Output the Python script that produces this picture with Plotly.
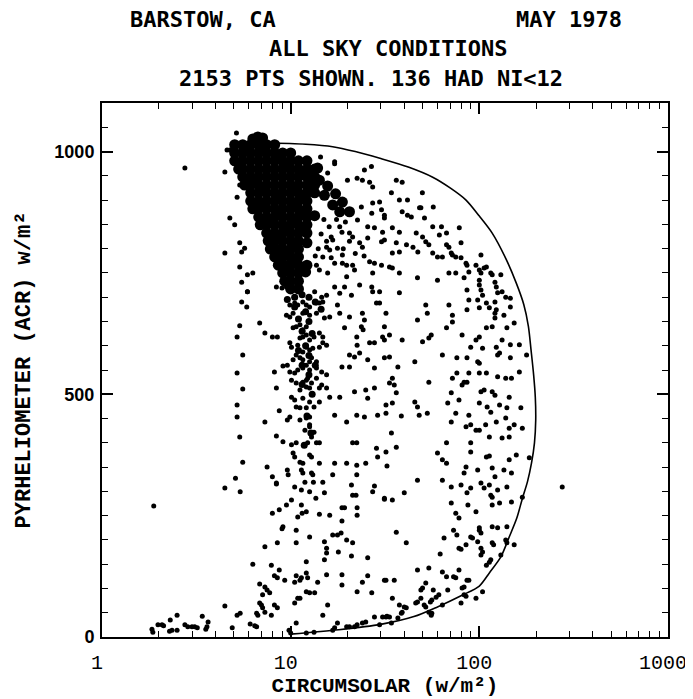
import plotly.graph_objects as go

# ---------------- data ----------------
x_tick_values = [1, 10, 100, 1000]
x_tick_labels = ["1", "10", "100", "1000"]
x_minor_ticks = [2, 3, 4, 5, 6, 7, 8, 9, 20, 30, 40, 50, 60, 70, 80, 90,
                 200, 300, 400, 500, 600, 700, 800, 900]
y_tick_values = [0, 500, 1000]
y_tick_labels = ["0", "500", "1000"]

# envelope curve (circumsolar, pyrheliometer)
envelope_x = [10.0, 18, 30, 45, 60, 81, 100, 113, 130, 144, 158, 169, 180, 189, 196, 199,
              198, 194, 188, 182, 172, 157, 138, 117, 100, 85, 70, 56.6, 42, 29.7, 22,
              16.7, 12, 7.1]
envelope_y = [6, 15, 26, 42, 62, 86, 105, 132, 165, 206, 245, 285, 320, 358, 400, 447,
              494, 540, 591, 640, 685, 729, 780, 832, 867, 900, 925, 947, 968, 986, 1000,
              1010, 1015, 1018]

# dense core of the cloud (points overlap into a solid mass)
core_points = [
    (6.7, 1030), (6.3, 1026), (7.1, 1028),
    (5.05, 1014), (5.57, 1014), (6.14, 1014), (6.77, 1014), (7.46, 1014), (8.23, 1014),
    (5.05, 997), (5.57, 997), (6.14, 997), (6.77, 997), (7.46, 997), (8.23, 997), (9.07, 997), (10.0, 997),
    (5.05, 981), (5.57, 981), (6.14, 981), (6.77, 981), (7.46, 981), (8.23, 981), (9.07, 981), (10.0, 981), (11.0, 981), (12.2, 981),
    (5.3, 964), (5.57, 964), (6.14, 964), (6.77, 964), (7.46, 964), (8.23, 964), (9.07, 964), (10.0, 964), (11.0, 964), (12.2, 964), (13.4, 964),
    (5.57, 948), (6.14, 948), (6.77, 948), (7.46, 948), (8.23, 948), (9.07, 948), (10.0, 948), (11.0, 948), (12.2, 948), (13.4, 948),
    (5.7, 931), (6.14, 931), (6.77, 931), (7.46, 931), (8.23, 931), (9.07, 931), (10.0, 931), (11.0, 931), (12.2, 931), (13.4, 931),
    (6.14, 915), (6.77, 915), (7.46, 915), (8.23, 915), (9.07, 915), (10.0, 915), (11.0, 915), (12.2, 915), (13.4, 915),
    (6.14, 898), (6.77, 898), (7.46, 898), (8.23, 898), (9.07, 898), (10.0, 898), (11.0, 898), (12.2, 898),
    (6.3, 882), (6.77, 882), (7.46, 882), (8.23, 882), (9.07, 882), (10.0, 882), (11.0, 882), (12.2, 882),
    (6.77, 865), (7.46, 865), (8.23, 865), (9.07, 865), (10.0, 865), (11.0, 865), (12.2, 865), (13.4, 868),
    (6.9, 849), (7.46, 849), (8.23, 849), (9.07, 849), (10.0, 849), (11.0, 849), (12.2, 849),
    (7.46, 832), (8.23, 832), (9.07, 832), (10.0, 832), (11.0, 832), (12.2, 832),
    (7.6, 816), (8.23, 816), (9.07, 816), (10.0, 816), (11.0, 816), (12.2, 812),
    (7.8, 799), (8.4, 799), (9.07, 799), (10.0, 799), (11.0, 799),
    (8.23, 783), (9.07, 783), (10.0, 783), (11.0, 783),
    (8.6, 766), (9.3, 766), (10.0, 766), (11.0, 766), (12.2, 766),
    (9.07, 750), (10.0, 750), (11.0, 750), (12.0, 752),
    (9.3, 733), (10.0, 733), (11.0, 733),
    (10.0, 717), (11.0, 717),
    (14.2, 941), (15.7, 929), (17.3, 913), (18.8, 896), (20.5, 876),
    (15.1, 910), (16.7, 890), (18.2, 876), (13.9, 966), (12.6, 958),
    (5.8, 1006), (7.1, 1006), (8.7, 990), (9.6, 973), (11.6, 956), (12.8, 940),
    (6.4, 940), (7.1, 923), (8.7, 907), (10.5, 923), (11.6, 907), (12.8, 923),
    (7.1, 890), (8.7, 873), (10.5, 890), (11.6, 873), (7.9, 857), (9.6, 840),
    (10.5, 857), (11.6, 840), (8.7, 824), (10.5, 808), (9.6, 791), (10.5, 775),
]

# dense streak below the core (clumped points)
tail_clumps = [
    (10.5, 700), (11.5, 705), (12.5, 700), (10.5, 680), (12.0, 670), (11.0, 655),
    (12.5, 650), (11.5, 630), (13.0, 625), (12.0, 600), (11.0, 590), (12.5, 580),
    (13.5, 560), (11.5, 560), (12.5, 540), (11.5, 520), (13.0, 500), (13.5, 690),
    (14.5, 675), (9.6, 695), (12.2, 455), (12.8, 420), (11.8, 395),
]

upper_cloud = [
    (5.16, 1038), (14.4, 989), (17.1, 979), (17.1, 975), (26.8, 969), (24.6, 962), (15.7, 956),
    (20, 941), (22.5, 945), (24, 941), (27.2, 927), (26.2, 937), (36.3, 941), (39, 937),
    (29.6, 896), (27.2, 894), (23.7, 886), (34.2, 915), (37.7, 900), (41.6, 900), (39, 876),
    (41.6, 869), (43.6, 865), (30.3, 880), (31.4, 869), (31.4, 863), (26.9, 873), (22.6, 859),
    (25.6, 845), (27.8, 843), (30.7, 834), (34.6, 843), (37.7, 834), (46.3, 832), (41.1, 808),
    (37.7, 793), (34.6, 791), (44.5, 803), (47.2, 793), (48.2, 884), (47, 740), (37.7, 750),
    (33.4, 762), (34.6, 760), (30.3, 766), (27.8, 770), (26.2, 773), (27.2, 750), (21.3, 766),
    (21.8, 756), (18.8, 770), (19.8, 766), (19.8, 742), (23.2, 725), (26.9, 721), (27.2, 711),
    (29.6, 711), (21, 704), (17.1, 721), (18.2, 708), (14.6, 700), (13.4, 711), (36.3, 812),
    (31.4, 818), (30.3, 814), (25.6, 822), (23.2, 812), (24, 803), (20.5, 832), (21.3, 824),
    (18.2, 845), (18.7, 834), (16.4, 824), (16.7, 818), (15.5, 803), (16.1, 797), (17.7, 801),
    (18.8, 787), (16.4, 781), (17.1, 770), (14.8, 783), (13.7, 766), (14.2, 756), (15.7, 750),
    (19.3, 721), (37.7, 709),
    (4.48, 958), (4.76, 1003), (4.6, 1003), (5.37, 931), (5.2, 906), (4.76, 863), (5.05, 849),
    (5.37, 812), (5.7, 801), (4.48, 791), (5.5, 793), (5.37, 762), (5.5, 731), (5.9, 711),
    (5.9, 746), (6.3, 750), (8.4, 721), (9.0, 719), (9.5, 721), (2.75, 966),
    (15.0, 860), (16.0, 845), (14.5, 830), (15.5, 815), (14.0, 800), (13.5, 785),
    (17.5, 860), (19.5, 855), (20.5, 815), (19.0, 800), (22.0, 790), (24.5, 785),
]

upper_right_cloud = [
    (49.9, 915), (49, 884), (57, 886), (51.2, 863), (56.6, 845), (63, 845), (78.3, 843),
    (67, 832), (61.4, 828), (50, 824), (52, 814), (54, 808), (67, 808), (69, 803), (80, 812),
    (56.6, 791), (60, 783), (63.7, 783), (71, 791), (72, 787), (75, 783), (80, 781), (85, 770),
    (86, 766), (102, 787), (96, 766), (100, 756), (102, 750), (100, 735), (109, 762),
    (106, 760), (88, 752), (75, 750), (69, 750), (83, 740), (60, 735), (115, 750), (117, 746),
    (130, 746), (121, 731), (123, 721), (100, 725), (102, 715), (104, 704), (86, 715),
    (88, 694), (98, 694), (125, 709), (132, 711), (138, 700), (146, 698), (146, 680),
    (121, 690), (123, 674), (121, 667), (109, 688), (113, 678), (100, 678), (135, 663),
    (153, 647), (140, 637), (69, 684), (72, 663), (72, 649), (67, 637), (86, 674), (52, 684),
    (53, 667), (47, 653), (32, 667), (30.7, 618), (31.4, 612), (33.4, 622), (39, 612),
    (50, 608), (54, 616), (55.6, 622), (81, 622), (90, 597), (96, 612), (100, 618),
    (104, 595), (109, 637), (117, 639), (123, 597), (132, 612), (146, 602), (163, 602),
    (121, 657),
]

mid_cloud = [
    (31.4, 575), (33.4, 577), (45.5, 567), (63.7, 581), (76, 575), (86, 575), (98, 567),
    (100, 564), (125, 581), (128, 585), (146, 575), (178, 581), (37, 556), (54, 525),
    (72, 533), (76, 544), (81, 519), (83, 525), (86, 525), (88, 544), (100, 544), (109, 544),
    (102, 505), (106, 509), (117, 505), (121, 498), (125, 536), (138, 533), (148, 533),
    (163, 546), (128, 478), (140, 472), (110, 474), (100, 482), (115, 463), (123, 443),
    (138, 451), (144, 430), (153, 437), (169, 430), (166, 472), (144, 494), (88, 457),
    (90, 437), (96, 426), (100, 426), (85, 433), (75, 461), (71, 443), (78, 488), (68, 482),
    (71, 503), (108, 437), (113, 412), (132, 410), (144, 412), (90, 400), (90, 381), (67, 400),
    (60, 379), (63.7, 365), (67, 358), (109, 371), (113, 373), (144, 365), (157, 375),
    (184, 369), (85, 350), (83, 338), (98, 344), (117, 348), (121, 330), (135, 344),
    (148, 338), (80, 313), (71, 309), (90, 307), (86, 297), (102, 317), (113, 313), (106, 307),
    (125, 303), (140, 309), (115, 292), (117, 288), (128, 276), (117, 272), (148, 278),
    (169, 288), (71, 276), (87, 272), (96, 258), (75, 255), (78, 245), (100, 225), (117, 227),
    (125, 225), (140, 227), (63.7, 323), (47, 323), (40, 297), (31.4, 286), (34.6, 282),
    (48, 457), (53, 461), (45.5, 484), (47, 474), (34.6, 482), (32, 478), (32, 461),
    (38.6, 455), (34.2, 420), (36.3, 391), (32, 381), (32.4, 352), (34.6, 533), (35.4, 519),
    (36.3, 503), (33.4, 523), (275, 309),
]

low_right_cloud = [
    (36.3, 216), (41, 194), (65, 204), (73, 220), (76, 210), (85, 190), (78, 183), (80, 181),
    (90, 206), (92, 204), (100, 220), (102, 214), (98, 196), (102, 183), (104, 175), (102, 169),
    (117, 194), (119, 190), (138, 200), (140, 194), (130, 169), (113, 154), (115, 159),
    (109, 148), (153, 190), (62, 171), (47, 138), (54, 142), (63.7, 134), (67, 124), (78, 138),
    (73, 124), (75, 122), (86, 117), (88, 117), (81, 101), (83, 103), (68, 97), (57, 97),
    (49, 97), (50, 101), (52, 111), (59, 82), (61, 87), (56, 76), (55, 72), (51, 66), (52, 62),
    (47, 72), (46, 70), (49, 80), (41, 60), (40, 62), (38.6, 49), (39, 51), (37.7, 66),
    (34.6, 80), (54, 51), (55.6, 45), (56, 49), (37, 39), (32, 41), (33.4, 41), (29.6, 25),
    (34.2, 29), (32, 117), (35.4, 117), (96, 80), (104, 93), (83, 87), (85, 84), (63.7, 66),
    (80, 70),
]

low_left_cloud = [
    (1.88, 270), (4.48, 307), (5.4, 299), (8.4, 315), (10.5, 309), (11.4, 303), (12.6, 299),
    (11.9, 319), (13.2, 319), (14.8, 319), (15.1, 297), (21, 313), (21.3, 292), (22.2, 292),
    (27.2, 299), (27.8, 311), (31.4, 284), (13.6, 286), (10.1, 282), (9.5, 272), (11.4, 272),
    (12.1, 258), (11.5, 255), (8.7, 262), (8, 255), (10.9, 247), (14.2, 253), (16.1, 251),
    (18.7, 266), (19.3, 266), (22.5, 266), (22.5, 251), (18.7, 239), (17.7, 210), (18.5, 214),
    (16.7, 210), (9.1, 227), (9.0, 223), (10.7, 220), (8.5, 194), (10.7, 194), (7.3, 186),
    (12.6, 206), (15.1, 196), (15.5, 183), (17.9, 175), (19.8, 200), (21.3, 194), (21, 167),
    (25.6, 163), (31.4, 117), (25.6, 126), (24, 113), (22.5, 93), (26.9, 91), (18.7, 128),
    (15.5, 128), (18.7, 107), (15.1, 159), (15.5, 173), (13.9, 113), (12.1, 93), (12.6, 91),
    (13.4, 91), (12.1, 132), (12.3, 122), (11.4, 122), (11.2, 117), (10.7, 126), (10.5, 113),
    (12.1, 155), (8.2, 126), (8.5, 122), (9.3, 117), (7.9, 148), (8.7, 138), (6.3, 150),
    (6.85, 109), (7.3, 103), (7.5, 97), (7.1, 87), (7.74, 91), (6.85, 70), (7.0, 66), (7.1, 60),
    (6.6, 49), (6.7, 45), (7.3, 51), (7.9, 45), (8.2, 66), (8.5, 60), (10.5, 70), (10.9, 80),
    (11.2, 80), (15.7, 66), (14.8, 45), (10.7, 29), (6.1, 27), (6.45, 23), (6.6, 21), (5.2, 45),
    (5.4, 49), (4.9, 19), (4.48, 64), (3.4, 43), (3.65, 31), (3.6, 21), (3.55, 16), (3.1, 21),
    (3.2, 19), (2.75, 25), (2.85, 21), (3.0, 21), (2.5, 45), (2.5, 14), (2.3, 35), (2.35, 14),
    (2.28, 12), (1.98, 25), (2.08, 25), (2.12, 23), (1.84, 16), (1.86, 10), (12.1, 8),
    (13.3, 10), (16.7, 14), (17.1, 19), (17.7, 29), (19.8, 21), (20.5, 21), (21.8, 21),
    (22.5, 25), (24, 29), (25, 31), (27.8, 41), (30.7, 41), (32.4, 43), (9.8, 14), (10, 8),
]

tail_cloud = [
    (5.9, 711), (5.5, 690), (5.85, 680), (6.85, 647), (7.3, 626), (5.37, 641), (5.2, 618),
    (5.57, 581), (8, 618), (8.5, 618), (8.2, 546), (9.1, 558), (5.2, 544), (5.57, 511),
    (5.2, 478), (5.2, 453), (5.37, 412), (5.57, 360), (5.1, 327), (7.3, 443), (8.4, 513),
    (8.7, 466), (8.4, 414), (9.1, 402), (7.5, 350), (8, 330), (8.4, 317), (9.6, 344),
    (9.7, 334), (11.6, 338), (11.4, 344), (10.3, 379), (10.5, 371), (11.2, 360), (11.6, 358),
    (12.6, 375), (12.9, 371), (14.2, 358), (12.9, 338), (13.1, 334), (17.1, 358), (16.7, 334),
    (19.8, 358), (22.4, 354), (22.4, 334), (28.5, 389), (28.9, 371), (10.1, 396), (10.7, 400),
    (12.3, 400), (13.7, 400), (14.2, 400), (12.9, 412), (13.3, 422), (11.9, 426), (12.6, 433),
    (11.2, 447), (12.1, 451), (12.6, 453), (12.6, 437), (9.9, 453), (9.6, 447), (10.7, 474),
    (11.2, 472), (12.1, 472), (13.3, 474), (10.1, 494), (10.5, 488), (11.6, 492), (12.6, 484),
    (14.2, 484), (16.1, 494), (11.2, 509), (12.1, 515), (12.6, 513), (12.9, 523), (14.2, 513),
    (14.6, 519), (15.5, 513), (12.1, 529), (12.3, 533), (13.7, 533), (14.6, 546), (15.5, 540),
    (10.1, 529), (10.7, 523), (11.6, 525), (9.9, 546), (10.5, 544), (10.9, 550), (11.6, 554),
    (12.1, 560), (12.6, 550), (13.7, 554), (9.6, 560), (10.3, 571), (10.7, 581), (11.2, 575),
    (11.6, 571), (12.6, 567), (12.9, 575), (13.7, 567), (11.6, 587), (12.1, 597), (12.6, 591),
    (13.1, 595), (14.2, 597), (14.8, 606), (15.5, 601), (9.9, 606), (10.1, 597), (10.9, 601),
    (11.2, 616), (11.6, 618), (12.1, 622), (12.6, 612), (13.3, 618), (14.2, 626), (14.8, 618),
    (10.3, 637), (10.7, 639), (11.2, 643), (11.6, 633), (12.1, 639), (9.5, 663), (9.9, 659),
    (10.3, 667), (11.6, 667), (12.6, 663), (13.7, 667), (15.1, 657), (16.1, 659), (9.9, 684),
    (10.5, 688), (10.9, 684), (11.6, 690), (12.1, 684), (12.6, 680), (14.2, 688), (15.5, 704),
    (14.8, 690), (13.7, 688), (17.7, 684), (18.2, 667), (20.5, 659), (24, 667), (24.6, 653),
    (28.5, 688), (29.6, 688), (31.4, 639), (27.8, 606), (26.2, 606), (22.5, 601), (19.3, 637),
    (22.4, 618), (23.7, 639), (24.2, 633), (20.5, 581), (21.8, 577), (23.2, 585), (25.6, 571),
    (27.8, 554), (18.7, 556), (20.5, 556), (21.8, 505), (25, 509), (27.8, 513), (25.6, 492),
    (18.2, 494), (19.8, 443), (22.4, 457), (24.6, 453), (28.9, 457), (17.1, 457), (21.3, 400),
    (22.4, 400), (25, 358),
]

title_line1_left = "BARSTOW, CA"
title_line1_right = "MAY 1978"
title_line2 = "ALL SKY CONDITIONS"
title_line3 = "2153 PTS SHOWN. 136 HAD NI&lt;12"
x_title = "CIRCUMSOLAR (w/m²)"
y_title = "PYRHELIOMETER (ACR) w/m²"

# ---------------- figure ----------------
scatter_points = upper_cloud + upper_right_cloud + mid_cloud + low_right_cloud + low_left_cloud + tail_cloud
sx = [p[0] for p in scatter_points]
sy = [p[1] for p in scatter_points]
cx = [p[0] for p in core_points]
cy = [p[1] for p in core_points]
tx = [p[0] for p in tail_clumps]
ty = [p[1] for p in tail_clumps]

fig = go.Figure()
fig.add_trace(go.Scatter(x=cx, y=cy, mode="markers",
                         marker=dict(color="black", size=11, line=dict(width=0)),
                         showlegend=False, hoverinfo="skip"))
fig.add_trace(go.Scatter(x=tx, y=ty, mode="markers",
                         marker=dict(color="black", size=7, line=dict(width=0)),
                         showlegend=False, hoverinfo="skip"))
fig.add_trace(go.Scatter(x=sx, y=sy, mode="markers",
                         marker=dict(color="black", size=5, line=dict(width=0)),
                         showlegend=False))
fig.add_trace(go.Scatter(x=envelope_x, y=envelope_y, mode="lines",
                         line=dict(color="black", width=1.6, shape="spline", smoothing=0.8),
                         showlegend=False))

# the page body adds an 8 px offset, so the figure is 8 px smaller than the window
fig.update_layout(
    width=685, height=691,
    margin=dict(l=94, r=25, t=95, b=62, autoexpand=False),
    paper_bgcolor="white", plot_bgcolor="white",
    xaxis=dict(
        type="log", range=[0, 3], automargin=False,
        tickmode="array", tickvals=x_tick_values, ticktext=x_tick_labels,
        ticks="inside", ticklen=11, tickwidth=1.5, tickcolor="black",
        minor=dict(tickmode="array", tickvals=x_minor_ticks, ticks="inside",
                   ticklen=6, tickwidth=1.2, tickcolor="black", showgrid=False),
        showline=True, linecolor="black", linewidth=2, mirror="allticks",
        showgrid=False, zeroline=False,
        tickfont=dict(family="Liberation Mono", size=20, color="black"),
        ticklabelstandoff=6, ticklabelshift=-5,
        title=dict(text=x_title, standoff=2,
                   font=dict(family="Liberation Mono", size=21, color="black", weight="bold")),
    ),
    yaxis=dict(
        range=[0, 1100], automargin=False,
        tickmode="array", tickvals=y_tick_values, ticktext=y_tick_labels,
        ticks="inside", ticklen=11, tickwidth=1.5, tickcolor="black",
        minor=dict(dtick=50, ticks="inside", ticklen=6, tickwidth=1.2,
                   tickcolor="black", showgrid=False),
        showline=True, linecolor="black", linewidth=2, mirror="allticks",
        showgrid=False, zeroline=False,
        tickfont=dict(family="Liberation Sans", size=18, color="black", weight="bold"),
        ticklabelstandoff=2,
        title=dict(text=y_title, standoff=18,
                   font=dict(family="Liberation Mono", size=22, color="black", weight="bold")),
    ),
)

title_font = dict(family="DejaVu Sans Mono", size=22, color="black", weight="bold")
for text, xp, yp in [(title_line1_left, 0.178, 1.157), (title_line1_right, 0.825, 1.157),
                     (title_line2, 0.505, 1.102), (title_line3, 0.475, 1.045)]:
    fig.add_annotation(text=text, x=xp, y=yp, xref="paper", yref="paper",
                       xanchor="center", yanchor="middle", showarrow=False, font=title_font)

fig.write_html("out.html")
